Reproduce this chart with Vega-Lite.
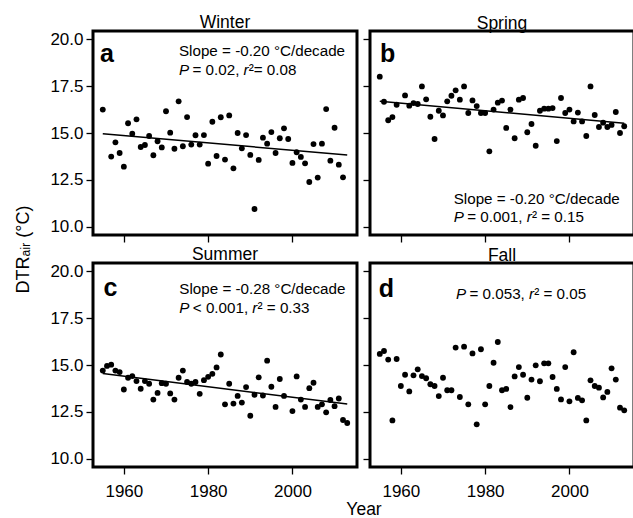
{
  "$schema": "https://vega.github.io/schema/vega-lite/v6.json",
  "autosize": {"type": "pad"},
  "padding": {"left": 12, "top": 12, "right": 0, "bottom": 0},
  "background": "white",
  "datasets": {
    "winter": [
      {"year":1955,"dtr":16.25},{"year":1957,"dtr":13.74},{"year":1958,"dtr":14.50},{"year":1959,"dtr":13.93},{"year":1960,"dtr":13.20},
      {"year":1961,"dtr":15.52},{"year":1962,"dtr":14.96},{"year":1963,"dtr":15.73},{"year":1964,"dtr":14.25},{"year":1965,"dtr":14.36},
      {"year":1966,"dtr":14.84},{"year":1967,"dtr":13.81},{"year":1968,"dtr":14.56},{"year":1969,"dtr":14.23},{"year":1970,"dtr":16.16},
      {"year":1971,"dtr":15.02},{"year":1972,"dtr":14.16},{"year":1973,"dtr":16.69},{"year":1974,"dtr":14.29},{"year":1975,"dtr":15.85},
      {"year":1976,"dtr":14.38},{"year":1977,"dtr":14.88},{"year":1978,"dtr":14.38},{"year":1979,"dtr":14.89},{"year":1980,"dtr":13.36},
      {"year":1981,"dtr":15.60},{"year":1982,"dtr":13.77},{"year":1983,"dtr":15.84},{"year":1984,"dtr":13.58},{"year":1985,"dtr":15.94},
      {"year":1986,"dtr":13.11},{"year":1987,"dtr":15.00},{"year":1988,"dtr":14.18},{"year":1989,"dtr":14.89},{"year":1990,"dtr":13.83},
      {"year":1991,"dtr":10.94},{"year":1992,"dtr":13.56},{"year":1993,"dtr":14.75},{"year":1994,"dtr":14.43},{"year":1995,"dtr":15.05},
      {"year":1996,"dtr":13.93},{"year":1997,"dtr":14.72},{"year":1998,"dtr":15.25},{"year":1999,"dtr":14.68},{"year":2000,"dtr":13.40},
      {"year":2001,"dtr":13.97},{"year":2002,"dtr":13.72},{"year":2003,"dtr":13.38},{"year":2004,"dtr":12.38},{"year":2005,"dtr":14.41},
      {"year":2006,"dtr":12.62},{"year":2007,"dtr":14.43},{"year":2008,"dtr":16.28},{"year":2009,"dtr":13.52},{"year":2010,"dtr":15.28},
      {"year":2011,"dtr":13.31},{"year":2012,"dtr":12.63}
    ],
    "spring": [
      {"year":1955,"dtr":18.01},{"year":1956,"dtr":16.67},{"year":1957,"dtr":15.68},{"year":1958,"dtr":15.85},{"year":1959,"dtr":16.51},
      {"year":1961,"dtr":17.01},{"year":1962,"dtr":16.46},{"year":1963,"dtr":16.60},{"year":1964,"dtr":16.55},{"year":1965,"dtr":17.49},
      {"year":1966,"dtr":16.80},{"year":1967,"dtr":15.87},{"year":1968,"dtr":14.68},{"year":1969,"dtr":16.19},{"year":1970,"dtr":15.94},
      {"year":1971,"dtr":16.69},{"year":1972,"dtr":16.99},{"year":1973,"dtr":17.28},{"year":1974,"dtr":16.78},{"year":1975,"dtr":17.49},
      {"year":1976,"dtr":16.07},{"year":1977,"dtr":16.74},{"year":1978,"dtr":16.44},{"year":1979,"dtr":16.07},{"year":1980,"dtr":16.07},
      {"year":1981,"dtr":14.02},{"year":1982,"dtr":16.25},{"year":1983,"dtr":16.62},{"year":1984,"dtr":16.73},{"year":1985,"dtr":15.27},
      {"year":1986,"dtr":16.25},{"year":1987,"dtr":14.72},{"year":1988,"dtr":16.78},{"year":1989,"dtr":16.87},{"year":1990,"dtr":15.04},
      {"year":1991,"dtr":15.48},{"year":1992,"dtr":14.32},{"year":1993,"dtr":16.19},{"year":1994,"dtr":16.30},{"year":1995,"dtr":16.30},
      {"year":1996,"dtr":16.33},{"year":1997,"dtr":14.57},{"year":1998,"dtr":16.87},{"year":1999,"dtr":16.07},{"year":2000,"dtr":16.25},
      {"year":2001,"dtr":15.62},{"year":2002,"dtr":16.09},{"year":2003,"dtr":15.62},{"year":2004,"dtr":14.84},{"year":2005,"dtr":17.49},
      {"year":2006,"dtr":15.96},{"year":2007,"dtr":15.32},{"year":2008,"dtr":15.55},{"year":2009,"dtr":15.32},{"year":2010,"dtr":15.43},
      {"year":2011,"dtr":16.12},{"year":2012,"dtr":15.00},{"year":2013,"dtr":15.36}
    ],
    "summer": [
      {"year":1955,"dtr":14.70},{"year":1956,"dtr":14.95},{"year":1957,"dtr":15.02},{"year":1958,"dtr":14.70},{"year":1959,"dtr":14.62},
      {"year":1960,"dtr":13.69},{"year":1961,"dtr":14.32},{"year":1962,"dtr":14.41},{"year":1963,"dtr":14.14},{"year":1964,"dtr":13.73},
      {"year":1965,"dtr":14.14},{"year":1966,"dtr":14.00},{"year":1967,"dtr":13.15},{"year":1968,"dtr":13.51},{"year":1969,"dtr":14.03},
      {"year":1970,"dtr":14.00},{"year":1971,"dtr":13.48},{"year":1972,"dtr":13.15},{"year":1973,"dtr":14.32},{"year":1974,"dtr":14.70},
      {"year":1975,"dtr":14.09},{"year":1976,"dtr":14.00},{"year":1977,"dtr":14.09},{"year":1978,"dtr":13.46},{"year":1979,"dtr":14.19},
      {"year":1980,"dtr":14.37},{"year":1981,"dtr":14.53},{"year":1982,"dtr":14.87},{"year":1983,"dtr":15.56},{"year":1984,"dtr":12.90},
      {"year":1985,"dtr":14.00},{"year":1986,"dtr":12.94},{"year":1987,"dtr":13.35},{"year":1988,"dtr":12.99},{"year":1989,"dtr":13.82},
      {"year":1990,"dtr":12.29},{"year":1991,"dtr":13.41},{"year":1992,"dtr":14.34},{"year":1993,"dtr":13.37},{"year":1994,"dtr":15.23},
      {"year":1995,"dtr":13.84},{"year":1996,"dtr":12.76},{"year":1997,"dtr":14.25},{"year":1998,"dtr":13.35},{"year":2000,"dtr":12.54},
      {"year":2001,"dtr":14.39},{"year":2002,"dtr":13.15},{"year":2003,"dtr":12.76},{"year":2004,"dtr":13.76},{"year":2005,"dtr":14.05},
      {"year":2006,"dtr":12.76},{"year":2007,"dtr":12.90},{"year":2008,"dtr":12.47},{"year":2009,"dtr":13.13},{"year":2010,"dtr":12.80},
      {"year":2011,"dtr":13.21},{"year":2012,"dtr":12.06},{"year":2013,"dtr":11.90}
    ],
    "fall": [
      {"year":1955,"dtr":15.59},{"year":1956,"dtr":15.75},{"year":1957,"dtr":15.29},{"year":1958,"dtr":12.04},{"year":1959,"dtr":15.32},
      {"year":1960,"dtr":13.88},{"year":1961,"dtr":14.48},{"year":1962,"dtr":13.59},{"year":1963,"dtr":14.45},{"year":1964,"dtr":14.77},
      {"year":1965,"dtr":14.41},{"year":1966,"dtr":14.29},{"year":1967,"dtr":13.97},{"year":1968,"dtr":13.88},{"year":1969,"dtr":13.34},
      {"year":1970,"dtr":14.32},{"year":1971,"dtr":13.65},{"year":1972,"dtr":13.65},{"year":1973,"dtr":15.93},{"year":1974,"dtr":13.29},
      {"year":1975,"dtr":15.98},{"year":1976,"dtr":12.90},{"year":1977,"dtr":15.62},{"year":1978,"dtr":11.83},{"year":1979,"dtr":15.84},
      {"year":1980,"dtr":12.90},{"year":1981,"dtr":13.88},{"year":1982,"dtr":15.12},{"year":1983,"dtr":16.23},{"year":1984,"dtr":13.65},
      {"year":1985,"dtr":13.72},{"year":1986,"dtr":12.75},{"year":1987,"dtr":14.39},{"year":1988,"dtr":14.89},{"year":1989,"dtr":14.48},
      {"year":1990,"dtr":13.25},{"year":1991,"dtr":14.22},{"year":1992,"dtr":14.98},{"year":1993,"dtr":14.13},{"year":1994,"dtr":15.09},
      {"year":1995,"dtr":15.09},{"year":1996,"dtr":14.36},{"year":1997,"dtr":13.72},{"year":1998,"dtr":13.16},{"year":1999,"dtr":14.89},
      {"year":2000,"dtr":13.06},{"year":2001,"dtr":15.68},{"year":2002,"dtr":13.24},{"year":2003,"dtr":13.11},{"year":2004,"dtr":12.04},
      {"year":2005,"dtr":14.18},{"year":2006,"dtr":13.88},{"year":2007,"dtr":13.79},{"year":2008,"dtr":13.27},{"year":2009,"dtr":13.56},
      {"year":2010,"dtr":14.82},{"year":2011,"dtr":14.22},{"year":2012,"dtr":12.72},{"year":2013,"dtr":12.58}
    ]
  },
  "columns": 2,
  "spacing": {"row": 28, "column": 13},
  "bounds": "flush",
  "concat": [
    {
      "title": {"text": "Winter"},
      "width": 264, "height": 204,
      "layer": [
        {
          "data": {"name": "winter"},
          "mark": {"type": "circle", "color": "black", "size": 34, "opacity": 1},
          "encoding": {
            "x": {"field": "year", "type": "quantitative", "scale": {"domain": [1952.68, 2015.32], "nice": false, "zero": false},
                  "axis": {"values": [1960, 1980, 2000], "labels": false, "title": null}},
            "y": {"field": "dtr", "type": "quantitative", "scale": {"domain": [9.55, 20.45], "nice": false, "zero": false},
                  "axis": {"values": [10, 12.5, 15, 17.5, 20], "format": ".1f", "title": "DTRₐᵢᵣ (°C)", "titleX": -70, "titleY": 218, "titleBaseline": "middle", "titleAlign": "center", "titleAngle": -90, "titleFontSize": 18}}
          }
        },
        {
          "data": {"name": "winter"},
          "transform": [{"regression": "dtr", "on": "year", "extent": [1955, 2013]}],
          "mark": {"type": "line", "color": "black", "strokeWidth": 1.5},
          "encoding": {"x": {"field": "year", "type": "quantitative"}, "y": {"field": "dtr", "type": "quantitative"}}
        },
        {"data": {"values": [{}]}, "mark": {"type": "text", "align": "left", "baseline": "alphabetic", "fontSize": 25, "fontWeight": "bold"},
         "encoding": {"x": {"datum": 1954.34}, "y": {"datum": 18.79}, "text": {"value": "a"}}},
        {"data": {"values": [{}]}, "mark": {"type": "text", "align": "left", "baseline": "alphabetic", "fontSize": 15.2},
         "encoding": {"x": {"datum": 1973.08}, "y": {"datum": 19.13}, "text": {"value": "Slope = -0.20 °C/decade"}}},
        {"data": {"values": [{}]}, "mark": {"type": "text", "align": "left", "baseline": "alphabetic", "fontSize": 15.2, "fontStyle": "italic"},
         "encoding": {"x": {"datum": 1973.08}, "y": {"datum": 18.10}, "text": {"value": "P"}}},
        {"data": {"values": [{}]}, "mark": {"type": "text", "align": "left", "baseline": "alphabetic", "fontSize": 15.2, "dx": 13.5},
         "encoding": {"x": {"datum": 1973.08}, "y": {"datum": 18.10}, "text": {"value": "= 0.02,"}}},
        {"data": {"values": [{}]}, "mark": {"type": "text", "align": "left", "baseline": "alphabetic", "fontSize": 15.2, "fontStyle": "italic", "dx": 64.5},
         "encoding": {"x": {"datum": 1973.08}, "y": {"datum": 18.10}, "text": {"value": "r"}}},
        {"data": {"values": [{}]}, "mark": {"type": "text", "align": "left", "baseline": "alphabetic", "fontSize": 15.2, "dx": 69.7},
         "encoding": {"x": {"datum": 1973.08}, "y": {"datum": 18.10}, "text": {"value": "²= 0.08"}}}
      ]
    },
    {
      "title": {"text": "Spring"},
      "width": 264, "height": 204,
      "layer": [
        {
          "data": {"name": "spring"},
          "mark": {"type": "circle", "color": "black", "size": 34, "opacity": 1},
          "encoding": {
            "x": {"field": "year", "type": "quantitative", "scale": {"domain": [1952.68, 2015.32], "nice": false, "zero": false},
                  "axis": {"values": [1960, 1980, 2000], "labels": false, "title": null}},
            "y": {"field": "dtr", "type": "quantitative", "scale": {"domain": [9.55, 20.45], "nice": false, "zero": false},
                  "axis": {"values": [10, 12.5, 15, 17.5, 20], "labels": false, "title": null}}
          }
        },
        {
          "data": {"name": "spring"},
          "transform": [{"regression": "dtr", "on": "year", "extent": [1955, 2013]}],
          "mark": {"type": "line", "color": "black", "strokeWidth": 1.5},
          "encoding": {"x": {"field": "year", "type": "quantitative"}, "y": {"field": "dtr", "type": "quantitative"}}
        },
        {"data": {"values": [{}]}, "mark": {"type": "text", "align": "left", "baseline": "alphabetic", "fontSize": 25, "fontWeight": "bold"},
         "encoding": {"x": {"datum": 1955.05}, "y": {"datum": 18.78}, "text": {"value": "b"}}},
        {"data": {"values": [{}]}, "mark": {"type": "text", "align": "left", "baseline": "alphabetic", "fontSize": 15.2},
         "encoding": {"x": {"datum": 1972.54}, "y": {"datum": 11.22}, "text": {"value": "Slope = -0.20 °C/decade"}}},
        {"data": {"values": [{}]}, "mark": {"type": "text", "align": "left", "baseline": "alphabetic", "fontSize": 15.2, "fontStyle": "italic"},
         "encoding": {"x": {"datum": 1972.54}, "y": {"datum": 10.25}, "text": {"value": "P"}}},
        {"data": {"values": [{}]}, "mark": {"type": "text", "align": "left", "baseline": "alphabetic", "fontSize": 15.2, "dx": 13.5},
         "encoding": {"x": {"datum": 1972.54}, "y": {"datum": 10.25}, "text": {"value": "= 0.001,"}}},
        {"data": {"values": [{}]}, "mark": {"type": "text", "align": "left", "baseline": "alphabetic", "fontSize": 15.2, "fontStyle": "italic", "dx": 73},
         "encoding": {"x": {"datum": 1972.54}, "y": {"datum": 10.25}, "text": {"value": "r"}}},
        {"data": {"values": [{}]}, "mark": {"type": "text", "align": "left", "baseline": "alphabetic", "fontSize": 15.2, "dx": 78.2},
         "encoding": {"x": {"datum": 1972.54}, "y": {"datum": 10.25}, "text": {"value": "² = 0.15"}}}
      ]
    },
    {
      "title": {"text": "Summer"},
      "width": 264, "height": 204,
      "layer": [
        {
          "data": {"name": "summer"},
          "mark": {"type": "circle", "color": "black", "size": 34, "opacity": 1},
          "encoding": {
            "x": {"field": "year", "type": "quantitative", "scale": {"domain": [1952.68, 2015.32], "nice": false, "zero": false},
                  "axis": {"values": [1960, 1980, 2000], "format": "d", "title": "Year", "titleX": 270.5, "titleFontSize": 17.5}},
            "y": {"field": "dtr", "type": "quantitative", "scale": {"domain": [9.55, 20.45], "nice": false, "zero": false},
                  "axis": {"values": [10, 12.5, 15, 17.5, 20], "format": ".1f", "title": null}}
          }
        },
        {
          "data": {"name": "summer"},
          "transform": [{"regression": "dtr", "on": "year", "extent": [1955, 2013]}],
          "mark": {"type": "line", "color": "black", "strokeWidth": 1.5},
          "encoding": {"x": {"field": "year", "type": "quantitative"}, "y": {"field": "dtr", "type": "quantitative"}}
        },
        {"data": {"values": [{}]}, "mark": {"type": "text", "align": "left", "baseline": "alphabetic", "fontSize": 25, "fontWeight": "bold"},
         "encoding": {"x": {"datum": 1955.2}, "y": {"datum": 18.70}, "text": {"value": "c"}}},
        {"data": {"values": [{}]}, "mark": {"type": "text", "align": "left", "baseline": "alphabetic", "fontSize": 15.2},
         "encoding": {"x": {"datum": 1973.16}, "y": {"datum": 18.81}, "text": {"value": "Slope = -0.28 °C/decade"}}},
        {"data": {"values": [{}]}, "mark": {"type": "text", "align": "left", "baseline": "alphabetic", "fontSize": 15.2, "fontStyle": "italic"},
         "encoding": {"x": {"datum": 1973.16}, "y": {"datum": 17.80}, "text": {"value": "P"}}},
        {"data": {"values": [{}]}, "mark": {"type": "text", "align": "left", "baseline": "alphabetic", "fontSize": 15.2, "dx": 13.5},
         "encoding": {"x": {"datum": 1973.16}, "y": {"datum": 17.80}, "text": {"value": "< 0.001,"}}},
        {"data": {"values": [{}]}, "mark": {"type": "text", "align": "left", "baseline": "alphabetic", "fontSize": 15.2, "fontStyle": "italic", "dx": 73},
         "encoding": {"x": {"datum": 1973.16}, "y": {"datum": 17.80}, "text": {"value": "r"}}},
        {"data": {"values": [{}]}, "mark": {"type": "text", "align": "left", "baseline": "alphabetic", "fontSize": 15.2, "dx": 78.2},
         "encoding": {"x": {"datum": 1973.16}, "y": {"datum": 17.80}, "text": {"value": "² = 0.33"}}}
      ]
    },
    {
      "title": {"text": "Fall"},
      "width": 264, "height": 204,
      "layer": [
        {
          "data": {"name": "fall"},
          "mark": {"type": "circle", "color": "black", "size": 34, "opacity": 1},
          "encoding": {
            "x": {"field": "year", "type": "quantitative", "scale": {"domain": [1952.68, 2015.32], "nice": false, "zero": false},
                  "axis": {"values": [1960, 1980, 2000], "format": "d", "title": null}},
            "y": {"field": "dtr", "type": "quantitative", "scale": {"domain": [9.55, 20.45], "nice": false, "zero": false},
                  "axis": {"values": [10, 12.5, 15, 17.5, 20], "labels": false, "title": null}}
          }
        },
        {"data": {"values": [{}]}, "mark": {"type": "text", "align": "left", "baseline": "alphabetic", "fontSize": 25, "fontWeight": "bold"},
         "encoding": {"x": {"datum": 1954.74}, "y": {"datum": 18.63}, "text": {"value": "d"}}},
        {"data": {"values": [{}]}, "mark": {"type": "text", "align": "left", "baseline": "alphabetic", "fontSize": 15.2, "fontStyle": "italic"},
         "encoding": {"x": {"datum": 1973.08}, "y": {"datum": 18.53}, "text": {"value": "P"}}},
        {"data": {"values": [{}]}, "mark": {"type": "text", "align": "left", "baseline": "alphabetic", "fontSize": 15.2, "dx": 13.5},
         "encoding": {"x": {"datum": 1973.08}, "y": {"datum": 18.53}, "text": {"value": "= 0.053,"}}},
        {"data": {"values": [{}]}, "mark": {"type": "text", "align": "left", "baseline": "alphabetic", "fontSize": 15.2, "fontStyle": "italic", "dx": 73},
         "encoding": {"x": {"datum": 1973.08}, "y": {"datum": 18.53}, "text": {"value": "r"}}},
        {"data": {"values": [{}]}, "mark": {"type": "text", "align": "left", "baseline": "alphabetic", "fontSize": 15.2, "dx": 78.2},
         "encoding": {"x": {"datum": 1973.08}, "y": {"datum": 18.53}, "text": {"value": "² = 0.05"}}}
      ]
    }
  ],
  "config": {
    "font": "Liberation Sans",
    "view": {"stroke": "black", "strokeWidth": 3},
    "axis": {"domain": false, "grid": false, "ticks": true, "tickColor": "black", "tickSize": 7, "tickWidth": 1.3,
             "labelFontSize": 17, "labelColor": "black", "labelPadding": 3, "titleColor": "black", "titleFontWeight": "normal", "titleFont": "Liberation Sans", "labelFont": "Liberation Sans"},
    "axisX": {"labelPadding": 9, "titlePadding": 1},
    "title": {"fontSize": 17.5, "fontWeight": "normal", "color": "black", "anchor": "middle", "offset": -1, "font": "Liberation Sans"},
    "text": {"color": "black", "font": "Liberation Sans"}
  }
}
